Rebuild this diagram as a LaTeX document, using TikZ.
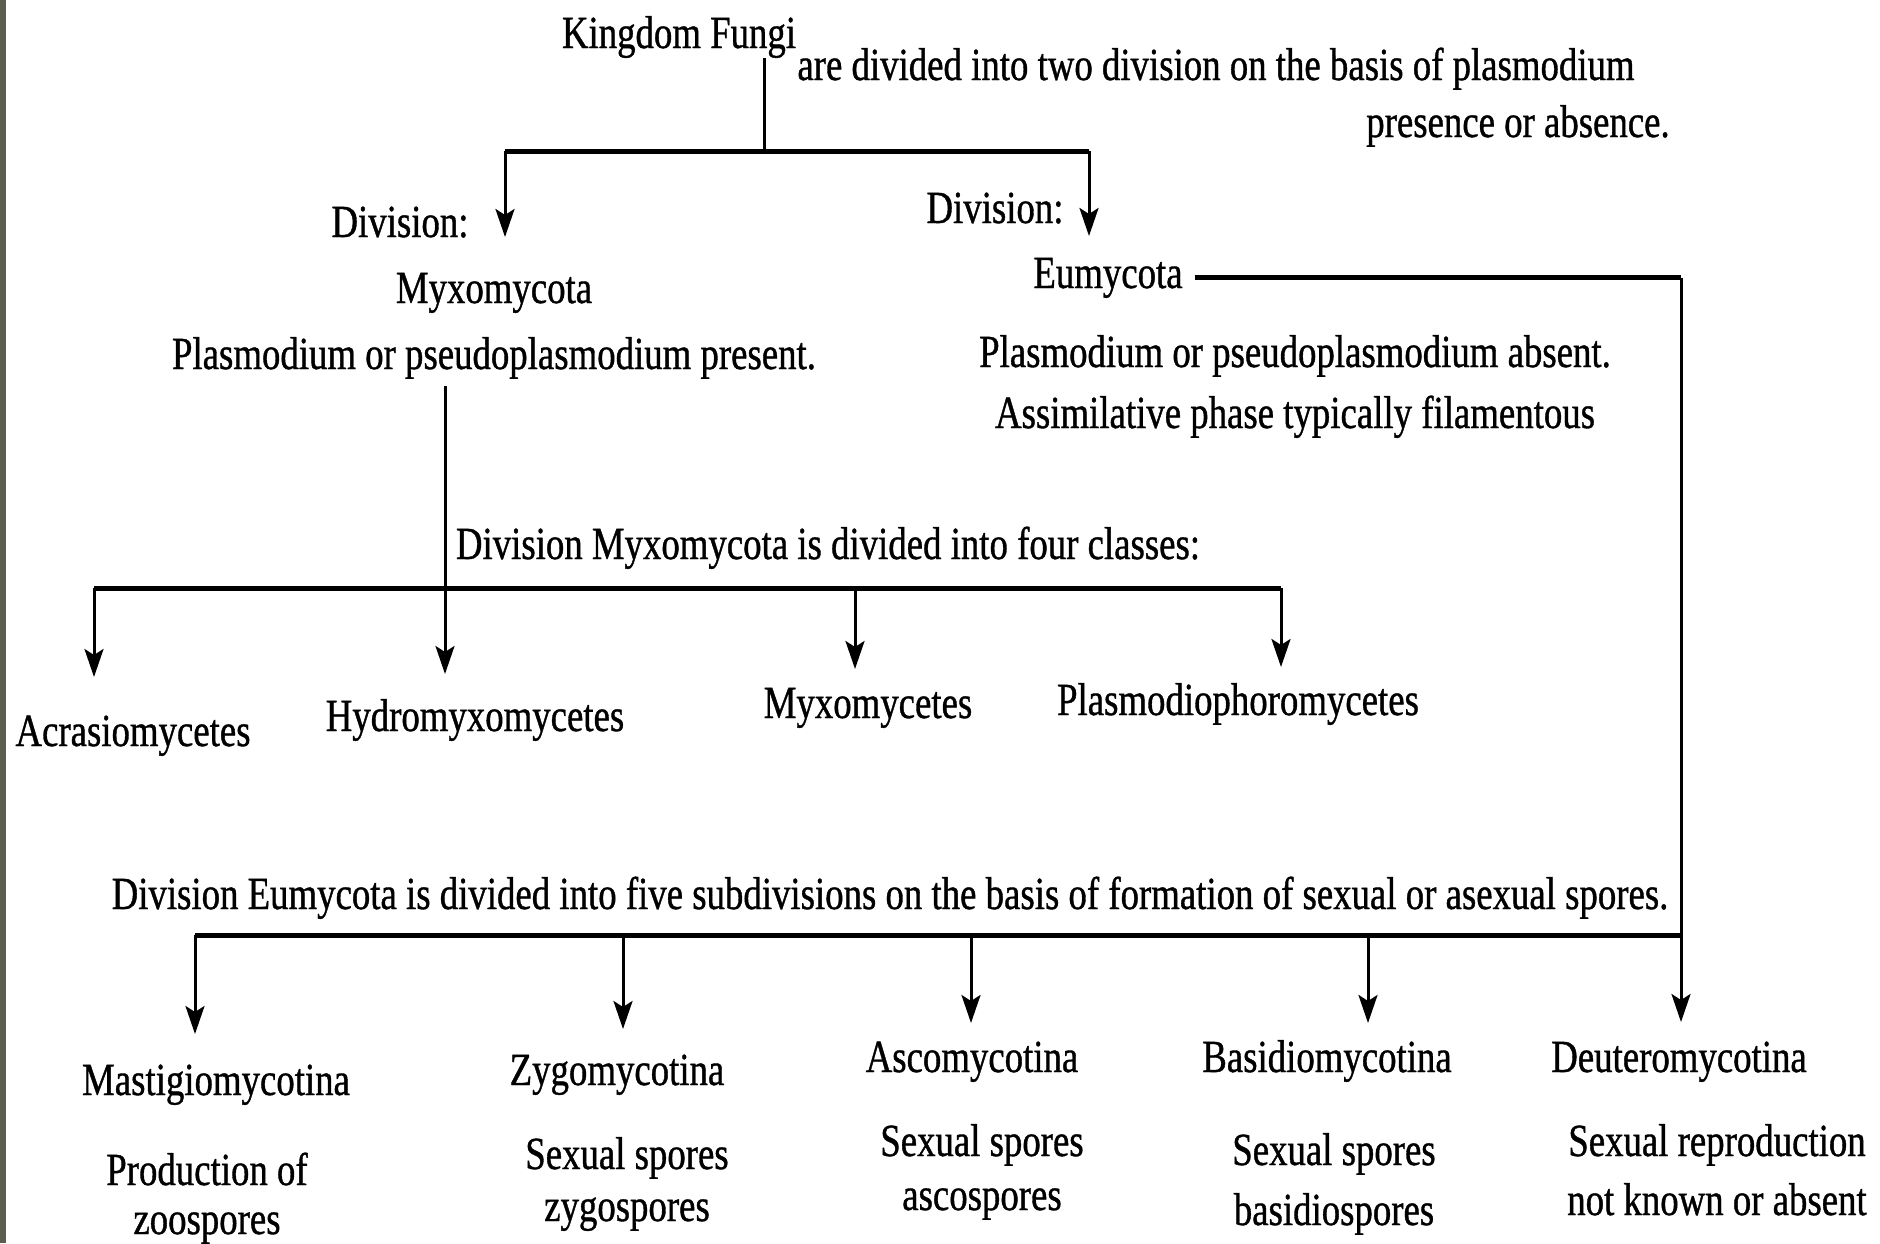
\documentclass[tikz,border=0pt]{standalone}
\usepackage{fontspec}
\setmainfont[FakeStretch=0.8, FakeBold=0.8]{Liberation Serif}
\usetikzlibrary{positioning,arrows.meta}
\definecolor{edgegrey}{HTML}{5B5E4F}
\tikzset{
    lbl/.style={anchor=base, inner sep=0pt, font=\fontsize{46}{50}\selectfont},
    bar/.style={line width=5pt},
    stem/.style={line width=3pt},
    drop/.style={stem, -{Stealth[length=28pt, width=19pt, inset=6pt]}},
}

\begin{document}
\begin{tikzpicture}[x=1pt, y=-1pt]
    \useasboundingbox (0,0) rectangle (1880,1243);
    \fill[edgegrey] (0,0) rectangle (6,1243);

    % kingdom and its two divisions
    \node[lbl] (kingdom) at (679,48) {Kingdom Fungi};
    \node[lbl] (basis) at (1216,80) {are divided into two division on the basis of plasmodium};
    \node[lbl] (basis2) at (1518,137) {presence or absence.};
    \node[lbl] (divmyxo) at (400,237) {Division:};
    \node[lbl] (myxo) at (494,303) {Myxomycota};
    \node[lbl, below=66pt of myxo.base, anchor=base] (myxonote) {Plasmodium or pseudoplasmodium present.};
    \node[lbl] (diveumy) at (995,223) {Division:};
    \node[lbl] (eumy) at (1108,288) {Eumycota};
    \node[lbl] (eumynote) at (1295,367) {Plasmodium or pseudoplasmodium absent.};
    \node[lbl, below=61pt of eumynote.base, anchor=base] (eumynote2) {Assimilative phase typically filamentous};

    \coordinate (kroot) at (764,58);
    \coordinate (ksplit) at (764,151);
    \coordinate (tipmyxo) at (505,237);
    \coordinate (tipeumy) at (1089,236);
    \draw[stem] (kroot) -- (ksplit);
    \draw[bar] (tipmyxo |- ksplit) -- (tipeumy |- ksplit);
    \draw[drop] (tipmyxo |- ksplit) -- (tipmyxo);
    \draw[drop] (tipeumy |- ksplit) -- (tipeumy);

    % myxomycota classes
    \node[lbl] (myxosplit) at (828,559) {Division Myxomycota is divided into four classes:};
    \node[lbl] (acrasio) at (133,746) {Acrasiomycetes};
    \node[lbl] (hydro) at (475,731) {Hydromyxomycetes};
    \node[lbl] (myxomyc) at (868,718) {Myxomycetes};
    \node[lbl] (plasmo) at (1238,715) {Plasmodiophoromycetes};

    \coordinate (mroot) at (445,386);
    \coordinate (mbar) at (445,588);
    \coordinate (tipacrasio) at (94,677);
    \coordinate (tiphydro) at (445,674);
    \coordinate (tipmyxomyc) at (855,669);
    \coordinate (tipplasmo) at (1281,667);
    \draw[stem] (mroot) -- (mbar);
    \draw[bar] (tipacrasio |- mbar) -- (tipplasmo |- mbar);
    \draw[drop] (tipacrasio |- mbar) -- (tipacrasio);
    \draw[drop] (mbar) -- (tiphydro);
    \draw[drop] (tipmyxomyc |- mbar) -- (tipmyxomyc);
    \draw[drop] (tipplasmo |- mbar) -- (tipplasmo);

    % eumycota subdivisions
    \node[lbl] (eumysplit) at (890,909) {Division Eumycota is divided into five subdivisions on the basis of formation of sexual or asexual spores.};
    \node[lbl] (masti) at (216,1095) {Mastigiomycotina};
    \node[lbl] (zygo) at (617,1085) {Zygomycotina};
    \node[lbl] (asco) at (972,1072) {Ascomycotina};
    \node[lbl] (basidio) at (1327,1072) {Basidiomycotina};
    \node[lbl] (deutero) at (1679,1072) {Deuteromycotina};
    \node[lbl] (mastinote) at (207,1185) {Production of};
    \node[lbl, below=49pt of mastinote.base, anchor=base] (mastinote2) {zoospores};
    \node[lbl] (zygonote) at (627,1169) {Sexual spores};
    \node[lbl, below=52pt of zygonote.base, anchor=base] (zygonote2) {zygospores};
    \node[lbl] (asconote) at (982,1156) {Sexual spores};
    \node[lbl, below=54pt of asconote.base, anchor=base] (asconote2) {ascospores};
    \node[lbl] (basidionote) at (1334,1165) {Sexual spores};
    \node[lbl, below=60pt of basidionote.base, anchor=base] (basidionote2) {basidiospores};
    \node[lbl] (deuteronote) at (1717,1156) {Sexual reproduction};
    \node[lbl, below=59pt of deuteronote.base, anchor=base] (deuteronote2) {not known or absent};

    \coordinate (ebar) at (1681,935);
    \coordinate (tipmasti) at (195,1034);
    \coordinate (tipzygo) at (623,1029);
    \coordinate (tipasco) at (971,1023);
    \coordinate (tipbasidio) at (1368,1023);
    \coordinate (tipdeutero) at (1681,1022);
    \draw[bar] ([xshift=12pt]eumy.east) -- (eumy.east -| ebar);
    \draw[drop] (eumy.east -| ebar) -- (tipdeutero);
    \draw[bar] (tipmasti |- ebar) -- (ebar);
    \draw[drop] (tipmasti |- ebar) -- (tipmasti);
    \draw[drop] (tipzygo |- ebar) -- (tipzygo);
    \draw[drop] (tipasco |- ebar) -- (tipasco);
    \draw[drop] (tipbasidio |- ebar) -- (tipbasidio);
\end{tikzpicture}
\end{document}
